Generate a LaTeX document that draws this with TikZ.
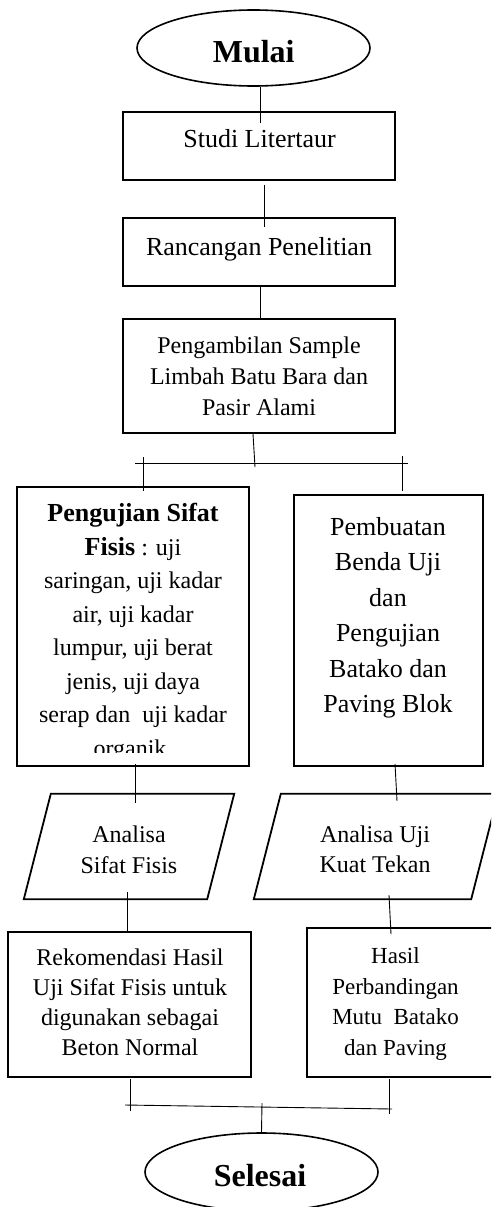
\documentclass[tikz,border=0pt]{standalone}
\usepackage{fontspec}
\setmainfont{Liberation Serif}
\usetikzlibrary{shapes.geometric,calc}
\begin{document}
\begin{tikzpicture}[x=1pt,y=-1pt,
  boxshape/.style={draw, rectangle, line width=1.8pt, inner sep=0pt},
  ovalshape/.style={draw, ellipse, line width=1.6pt, inner sep=0pt, minimum width=233pt},
  iofield/.style={rectangle, inner sep=0pt, minimum height=105pt},
  ioline/.style={line width=1.8pt, line join=miter},
  txt/.style={align=center, inner sep=0pt},
  conn/.style={line width=0.9pt}]
\useasboundingbox (0,0) rectangle (491,1207);
\clip (0,0) rectangle (491,1207);

% start
\node[ovalshape, minimum height=76pt] (mulai) at (253.5,48) {};
\node[txt, font=\bfseries\fontsize{32}{38}\selectfont] (mulaiT) at (253.7,52) {Mulai};

% upper boxes
\node[boxshape, minimum width=272pt, minimum height=68pt] (studi) at (259,146) {};
\node[txt, font=\fontsize{26}{31}\selectfont] (studiT) at (259.5,139) {Studi Litertaur};

\node[boxshape, minimum width=272pt, minimum height=68pt] (ranc) at (259,252) {};
\node[txt, font=\fontsize{26}{31}\selectfont] (rancT) at (259,249) {Rancangan Penelitian};

\node[boxshape, minimum width=272pt, minimum height=114pt] (peng) at (259,376) {};
\node[txt, font=\fontsize{24}{31}\selectfont] (pengT) at (259,376.3)
  {Pengambilan Sample\\Limbah Batu Bara dan\\Pasir Alami};

% two branches
\node[boxshape, minimum width=232pt, minimum height=279pt] (fisis) at (133,626.5) {};
\begin{scope}
  \clip (17,487) rectangle (249,752);
  \node[txt, font=\fontsize{24}{33.5}\selectfont] (fisisT) at (133,632.5)
    {{\bfseries\fontsize{26}{33.5}\selectfont Pengujian Sifat}\\
     {\bfseries\fontsize{26}{33.5}\selectfont Fisis} : uji\\
     saringan, uji kadar\\air, uji kadar\\lumpur, uji berat\\jenis, uji daya\\
     serap dan~ uji kadar\\organik.};
\end{scope}

\node[boxshape, minimum width=189pt, minimum height=271pt] (pemb) at (388.5,630.5) {};
\node[txt, font=\fontsize{26}{35.5}\selectfont] (pembT) at (388,617.7)
  {Pembuatan\\Benda Uji\\dan\\Pengujian\\Batako dan\\Paving Blok};

% input/output parallelograms
\node[iofield, minimum width=210pt] (anl1) at (129,846.5) {};
\draw[ioline] ([xshift=27pt]anl1.north west) -- (anl1.north east)
  -- ([xshift=-27pt]anl1.south east) -- (anl1.south west) -- cycle;
\node[txt, font=\fontsize{24}{30.6}\selectfont] (anl1T) at (129,850) {Analisa\\Sifat Fisis};

\node[iofield, minimum width=244pt] (anl2) at (376,846.5) {};
\draw[ioline] ([xshift=27pt]anl2.north west) -- (anl2.north east)
  -- ([xshift=-27pt]anl2.south east) -- (anl2.south west) -- cycle;
\node[txt, font=\fontsize{24}{30.6}\selectfont] (anl2T) at (375,849.3) {Analisa Uji\\Kuat Tekan};

\node[boxshape, minimum width=243pt, minimum height=145pt] (rek) at (129.5,1004.5) {};
\node[txt, font=\fontsize{24}{30}\selectfont] (rekT) at (130,1001.8)
  {Rekomendasi Hasil\\Uji Sifat Fisis untuk\\digunakan sebagai\\Beton Normal};

\node[boxshape, minimum width=188pt, minimum height=149pt] (hasil) at (401,1002.5) {};
\node[txt, font=\fontsize{23}{30.6}\selectfont] (hasilT) at (395.5,1003.8)
  {Hasil\\Perbandingan\\Mutu~ Batako\\dan Paving};

% end
\node[ovalshape, minimum height=78pt] (selesai) at (261.5,1172) {};
\node[txt, font=\bfseries\fontsize{32}{38}\selectfont] (selesaiT) at (260,1176) {Selesai};

% connectors
\draw[conn] ($(mulai.south)+(6.5,0)$) -- ($(studi.north)+(1,12)$);
\draw[conn] ($(studi.south)+(5,4)$) -- ($(ranc.north)+(5,10)$);
\draw[conn] ($(ranc.south)+(1,0)$) -- ($(peng.north)+(1,1)$);

\coordinate (split) at (255,463);
\coordinate (barL) at (135,463);
\coordinate (barR) at (408,463);
\draw[conn] ($(peng.south)+(-6,0)$) -- ($(split)+(0,4)$);
\draw[conn] (barL) -- (barR);
\draw[conn] ($(fisis.north)+(10,-29)$) -- ($(fisis.north)+(10,5)$);
\draw[conn] ($(pemb.north)+(13.5,-38)$) -- ($(pemb.north)+(13.5,-3)$);

\draw[conn] ($(fisis.south)+(2,-3)$) -- ($(anl1.north)+(6,9)$);
\draw[conn] ($(pemb.south)+(6.5,-3)$) -- ($(anl2.north)+(21,7)$);
\draw[conn] ($(anl1.south)+(-2,-7)$) -- ($(rek.north)+(-2.5,0)$);
\draw[conn] ($(anl2.south)+(13,-4)$) -- ($(hasil.north)+(-10,7)$);

\coordinate (joinL) at (125,1105);
\coordinate (joinR) at (392,1109);
\coordinate (joinM) at (262,1103);
\draw[conn] ($(rek.south)+(0.5,1)$) -- ($(rek.south)+(0.5,33)$);
\draw[conn] ($(hasil.south)+(-12,1)$) -- ($(hasil.south)+(-12,36)$);
\draw[conn] (joinL) -- (joinR);
\draw[conn] (joinM) -- (selesai.north);
\end{tikzpicture}
\end{document}
